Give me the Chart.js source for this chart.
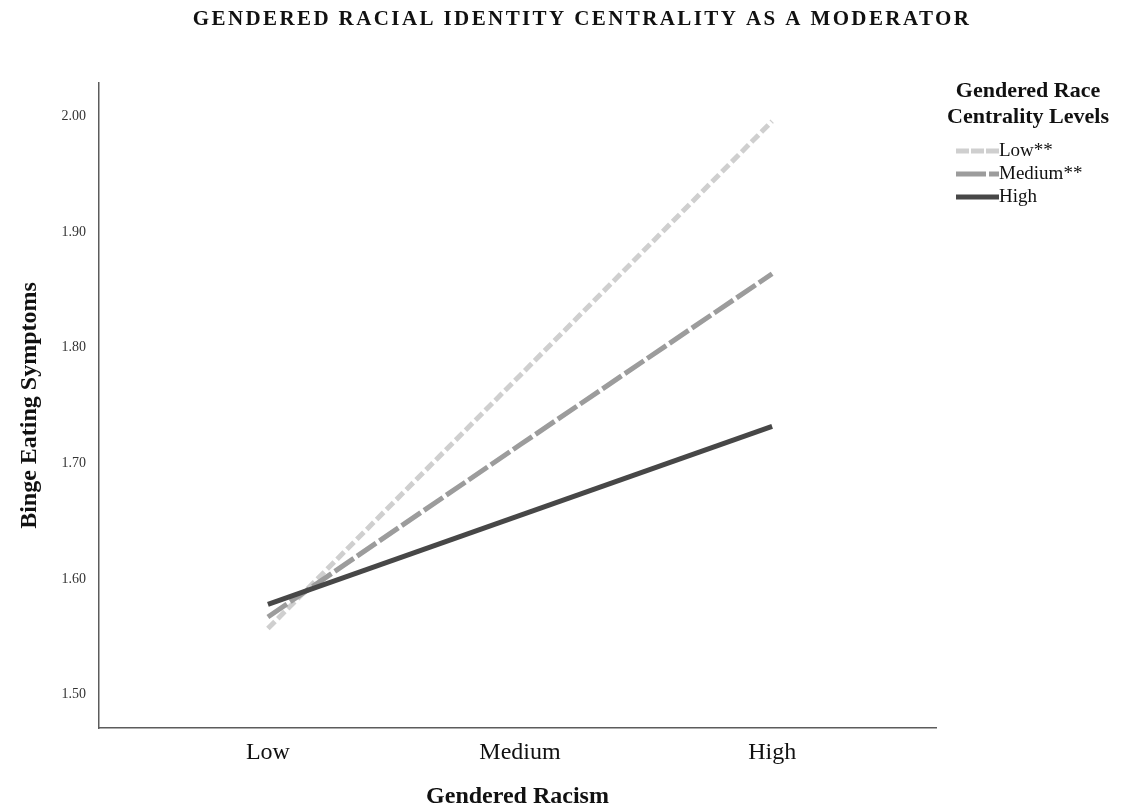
<!DOCTYPE html>
<html>
<head>
<meta charset="utf-8">
<script src="https://cdn.jsdelivr.net/npm/chart.js@4.4.1/dist/chart.umd.min.js"></script>
<style>
html,body{margin:0;padding:0;background:#fff;}
#wrap{width:1123px;height:809px;position:relative;}
</style>
</head>
<body>
<div id="wrap"><canvas id="c" width="1123" height="809"></canvas></div>
<script>
const categories = ['Low', 'Medium', 'High'];
const lowSeries = [1.557, 1.776, 1.996];
const mediumSeries = [1.567, 1.716, 1.864];
const highSeries = [1.578, 1.655, 1.732];
const seriesLabels = ['Low**', 'Medium**', 'High'];
const yTicks = [1.50, 1.60, 1.70, 1.80, 1.90, 2.00];
const chartTitle = 'GENDERED RACIAL IDENTITY CENTRALITY AS A MODERATOR';
const legendTitle = ['Gendered Race', 'Centrality Levels'];

const SERIF = '"Liberation Serif", "Times New Roman", serif';

function pts(arr){ return arr.map((v,i)=>({x:i, y:v})); }

const titlePlugin = {
  id: 'customTitle',
  afterDraw(chart){
    const ctx = chart.ctx;
    ctx.save();
    ctx.font = 'bold 21px ' + SERIF;
    try { ctx.letterSpacing = '2.4px'; } catch(e){}
    ctx.fillStyle = '#111';
    ctx.textAlign = 'center';
    ctx.textBaseline = 'middle';
    ctx.fillText(chartTitle, 582, 20);
    ctx.restore();
  }
};

const legendPlugin = {
  id: 'customLegend',
  afterDraw(chart){
    const ctx = chart.ctx;
    ctx.save();
    ctx.fillStyle = '#111';
    ctx.textAlign = 'center';
    ctx.textBaseline = 'middle';
    ctx.font = 'bold 22px ' + SERIF;
    ctx.fillText(legendTitle[0], 1028, 91);
    ctx.fillText(legendTitle[1], 1028, 117);
    ctx.textAlign = 'left';
    ctx.font = '19px ' + SERIF;
    const ys = [151, 174, 197];
    chart.data.datasets.forEach((ds, i) => {
      const y = ys[i];
      ctx.beginPath();
      ctx.strokeStyle = ds.borderColor;
      ctx.lineWidth = 5;
      ctx.setLineDash(ds.legendDash || []);
      ctx.moveTo(956, y);
      ctx.lineTo(999, y);
      ctx.stroke();
      ctx.setLineDash([]);
      ctx.fillText(ds.label, 999, y);
    });
    ctx.restore();
  }
};

new Chart(document.getElementById('c'), {
  type: 'line',
  data: {
    datasets: [
      { label: seriesLabels[0], data: pts(lowSeries), borderColor: '#cfcfcf', borderWidth: 5, borderDash: [10, 4], legendDash: [13, 2], pointRadius: 0, order: 3, fill: false, tension: 0 },
      { label: seriesLabels[1], data: pts(mediumSeries), borderColor: '#9c9c9c', borderWidth: 5, borderDash: [23, 4], legendDash: [30, 3], pointRadius: 0, order: 2, fill: false, tension: 0 },
      { label: seriesLabels[2], data: pts(highSeries), borderColor: '#474747', borderWidth: 5, borderDash: [], legendDash: [], pointRadius: 0, order: 1, fill: false, tension: 0 }
    ]
  },
  options: {
    responsive: false,
    animation: false,
    devicePixelRatio: 1,
    layout: { padding: { top: 83, right: 187, left: 0, bottom: 0 } },
    plugins: { legend: { display: false }, title: { display: false }, tooltip: { enabled: false } },
    scales: {
      x: {
        type: 'linear',
        min: -0.67,
        max: 2.65,
        afterBuildTicks: (s) => { s.ticks = categories.map((c,i)=>({value:i})); },
        afterFit: (s) => { s.height = 81; },
        grid: { display: false, drawTicks: false },
        border: { display: true, color: '#5c5c5c', width: 1.5 },
        ticks: {
          padding: 10,
          color: '#111',
          font: { family: SERIF, size: 24 },
          callback: (v) => categories[v] !== undefined ? categories[v] : ''
        },
        title: { display: true, text: 'Gendered Racism', color: '#111', font: { family: SERIF, size: 24, weight: 'bold', lineHeight: 1.0 }, padding: { top: 0, bottom: 0 } }
      },
      y: {
        min: 1.471,
        max: 2.029,
        afterBuildTicks: (s) => { s.ticks = yTicks.map(v=>({value:v})); },
        afterFit: (s) => { s.width = 99; },
        grid: { display: false, drawTicks: false },
        border: { display: true, color: '#5c5c5c', width: 1.5 },
        ticks: {
          padding: 13,
          color: '#333',
          font: { family: SERIF, size: 14 },
          callback: (v) => Number(v).toFixed(2)
        },
        title: { display: true, text: 'Binge Eating Symptoms', color: '#111', font: { family: SERIF, size: 24, weight: 'bold', lineHeight: 1.2 }, padding: { top: 15, bottom: 0 } }
      }
    }
  },
  plugins: [titlePlugin, legendPlugin]
});
</script>
</body>
</html>
